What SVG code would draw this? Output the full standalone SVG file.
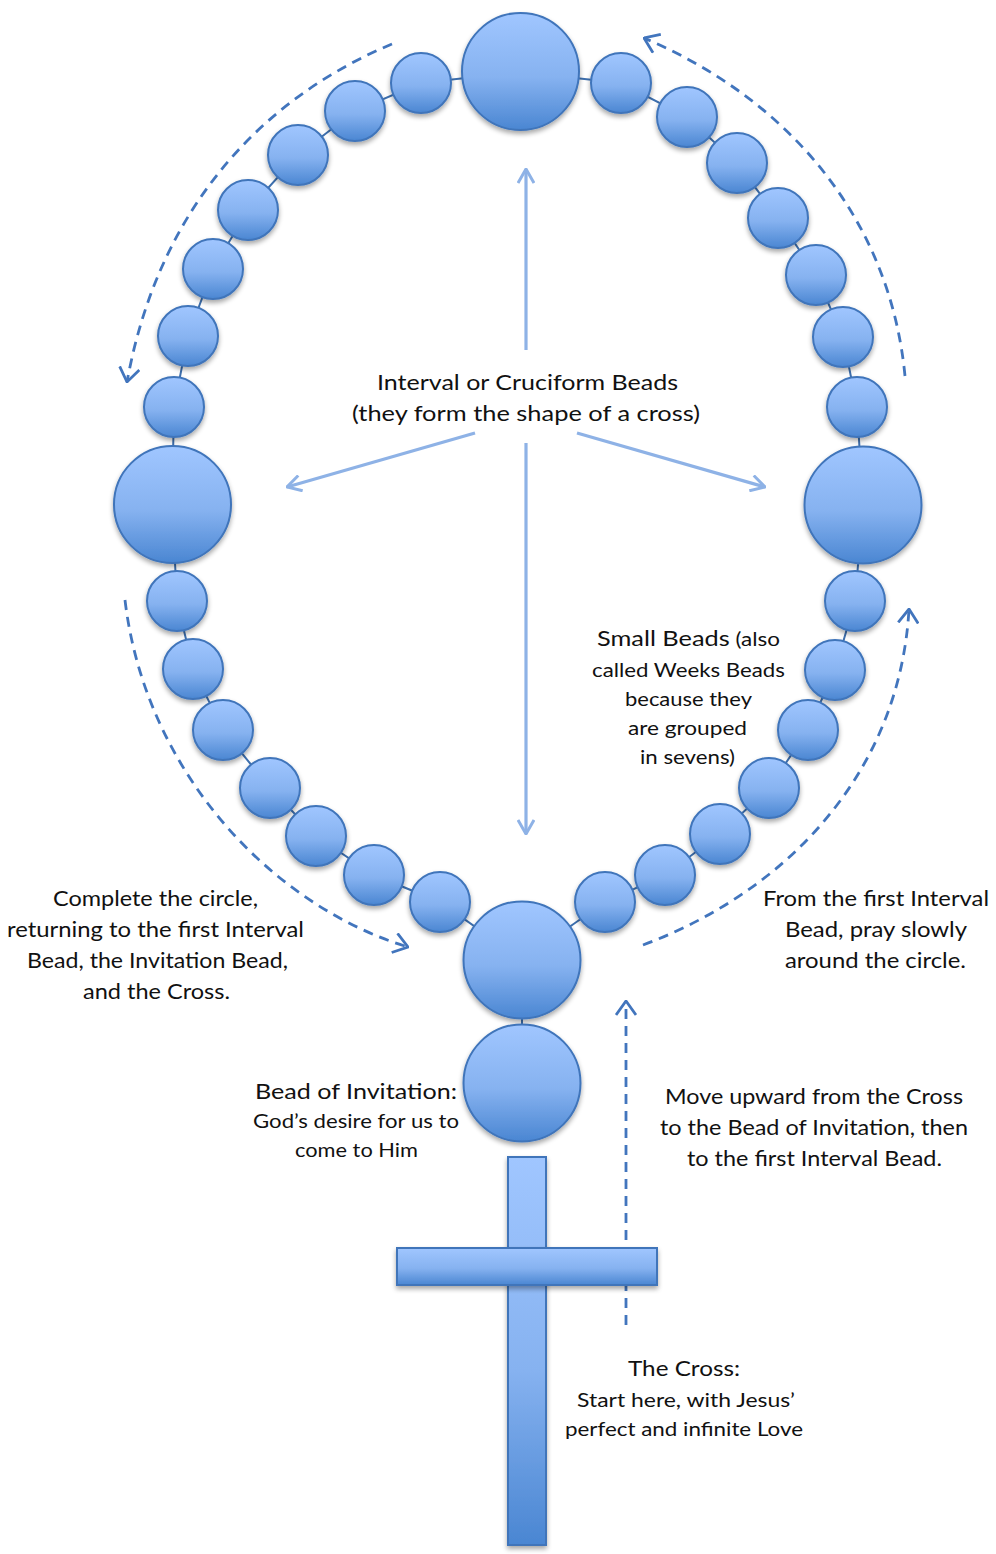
<svg xmlns="http://www.w3.org/2000/svg" width="996" height="1554" viewBox="0 0 996 1554">
<defs>
<linearGradient id="bg" x1="0" y1="0" x2="0" y2="1">
<stop offset="0" stop-color="#a0c6ff"/>
<stop offset="0.55" stop-color="#86b2f0"/>
<stop offset="1" stop-color="#4a86d2"/>
</linearGradient>
<filter id="sh" x="-20%" y="-20%" width="140%" height="150%">
<feGaussianBlur in="SourceAlpha" stdDeviation="2.5"/>
<feOffset dy="3" result="b"/>
<feComponentTransfer><feFuncA type="linear" slope="0.35"/></feComponentTransfer>
<feMerge><feMergeNode/><feMergeNode in="SourceGraphic"/></feMerge>
</filter>
<marker id="ah" viewBox="0 0 16 18" refX="15" refY="9" markerWidth="16" markerHeight="18" markerUnits="userSpaceOnUse" orient="auto">
<path d="M1,1 L15,9 L1,17" fill="none" stroke="#8eb2e6" stroke-width="3"/>
</marker>
<marker id="dh" viewBox="0 0 16 22" refX="15" refY="11" markerWidth="16" markerHeight="22" markerUnits="userSpaceOnUse" orient="auto">
<path d="M1,1 L15,11 L1,21" fill="none" stroke="#4275bd" stroke-width="2.8"/>
</marker>
</defs>
<style>
.bead{fill:url(#bg);stroke:#3f74ba;stroke-width:2;filter:url(#sh)}
.chain{fill:none;stroke:#3d6fae;stroke-width:2}
.sol{fill:none;stroke:#8eb2e6;stroke-width:3.2;marker-end:url(#ah)}
.dsh{fill:none;stroke:#4275bd;stroke-width:2.8;stroke-dasharray:10 7;marker-end:url(#dh)}
text{font-family:Lato,"Liberation Sans",sans-serif;fill:#111}
.m{font-size:22px}
.s{font-size:19.5px}
</style>

<g id="connectors">
<polygon class="chain" points="520,72 621,83 687,117 737,163 778,218 816,275 843,337 857,407 863,505 855,601 835,670 808,730 769,788 720,834 665,875 605,902 522,960 440,902 374,875 316,836 270,788 223,730 193,669 177,601 172,505 174,407 188,336 213,269 248,210 298,155 355,111 421,83"/>
<line class="chain" x1="522" y1="1010" x2="522" y2="1030"/>
<line class="sol" x1="526" y1="350" x2="526" y2="169"/>
<line class="sol" x1="526" y1="443" x2="526" y2="834"/>
<line class="sol" x1="475" y1="433" x2="287" y2="487"/>
<line class="sol" x1="577" y1="433" x2="765" y2="487"/>
<path class="dsh" d="M392,44 C270,95 160,200 127,382"/>
<path class="dsh" d="M905,376 C890,220 790,100 644,38"/>
<path class="dsh" d="M125,600 C145,770 270,905 408,947"/>
<path class="dsh" d="M643,945 C790,890 900,770 909,609"/>
<line class="dsh" x1="626" y1="1325" x2="626" y2="1001"/>
</g>

<g id="beads">
<circle id="interval-top" class="bead" cx="520.5" cy="71.5" r="58.5"/>
<circle id="interval-left" class="bead" cx="172.5" cy="504.5" r="58.5"/>
<circle id="interval-right" class="bead" cx="863" cy="505" r="58.5"/>
<circle id="interval-bottom" class="bead" cx="522" cy="960" r="58.5"/>
<circle id="invitation" class="bead" cx="522" cy="1083" r="58.5"/>
<g id="small-beads">
<circle class="bead" cx="621" cy="83" r="30"/>
<circle class="bead" cx="687" cy="117" r="30"/>
<circle class="bead" cx="737" cy="163" r="30"/>
<circle class="bead" cx="778" cy="218" r="30"/>
<circle class="bead" cx="816" cy="275" r="30"/>
<circle class="bead" cx="843" cy="337" r="30"/>
<circle class="bead" cx="857" cy="407" r="30"/>
<circle class="bead" cx="855" cy="601" r="30"/>
<circle class="bead" cx="835" cy="670" r="30"/>
<circle class="bead" cx="808" cy="730" r="30"/>
<circle class="bead" cx="769" cy="788" r="30"/>
<circle class="bead" cx="720" cy="834" r="30"/>
<circle class="bead" cx="665" cy="875" r="30"/>
<circle class="bead" cx="605" cy="902" r="30"/>
<circle class="bead" cx="440" cy="902" r="30"/>
<circle class="bead" cx="374" cy="875" r="30"/>
<circle class="bead" cx="316" cy="836" r="30"/>
<circle class="bead" cx="270" cy="788" r="30"/>
<circle class="bead" cx="223" cy="730" r="30"/>
<circle class="bead" cx="193" cy="669" r="30"/>
<circle class="bead" cx="177" cy="601" r="30"/>
<circle class="bead" cx="174" cy="407" r="30"/>
<circle class="bead" cx="188" cy="336" r="30"/>
<circle class="bead" cx="213" cy="269" r="30"/>
<circle class="bead" cx="248" cy="210" r="30"/>
<circle class="bead" cx="298" cy="155" r="30"/>
<circle class="bead" cx="355" cy="111" r="30"/>
<circle class="bead" cx="421" cy="83" r="30"/>
</g>
</g>

<g id="cross">
<rect class="bead" x="508" y="1157" width="38" height="388"/>
<rect class="bead" x="397" y="1248" width="260" height="37"/>
</g>

<g id="label-interval">
<text class="m" x="377" y="390" textLength="301" lengthAdjust="spacingAndGlyphs">Interval or Cruciform Beads</text>
<text class="m" x="352" y="421" textLength="348" lengthAdjust="spacingAndGlyphs">(they form the shape of a cross)</text>
</g>
<g id="label-small">
<text x="597" y="646" textLength="183" lengthAdjust="spacingAndGlyphs"><tspan class="m">Small Beads</tspan><tspan class="s"> (also</tspan></text>
<text class="s" x="592" y="677" textLength="193" lengthAdjust="spacingAndGlyphs">called Weeks Beads</text>
<text class="s" x="625" y="706" textLength="127" lengthAdjust="spacingAndGlyphs">because they</text>
<text class="s" x="628" y="735" textLength="119" lengthAdjust="spacingAndGlyphs">are grouped</text>
<text class="s" x="640" y="764" textLength="95" lengthAdjust="spacingAndGlyphs">in sevens)</text>
</g>
<g id="label-complete">
<text class="m" x="53" y="906" textLength="205" lengthAdjust="spacingAndGlyphs">Complete the circle,</text>
<text class="m" x="7" y="937" textLength="297" lengthAdjust="spacingAndGlyphs">returning to the first Interval</text>
<text class="m" x="27" y="968" textLength="261" lengthAdjust="spacingAndGlyphs">Bead, the Invitation Bead,</text>
<text class="m" x="83" y="999" textLength="147" lengthAdjust="spacingAndGlyphs">and the Cross.</text>
</g>
<g id="label-from">
<text class="m" x="763" y="906" textLength="226" lengthAdjust="spacingAndGlyphs">From the first Interval</text>
<text class="m" x="785" y="937" textLength="182" lengthAdjust="spacingAndGlyphs">Bead, pray slowly</text>
<text class="m" x="785" y="968" textLength="181" lengthAdjust="spacingAndGlyphs">around the circle.</text>
</g>
<g id="label-invitation">
<text class="m" x="255" y="1099" textLength="202" lengthAdjust="spacingAndGlyphs">Bead of Invitation:</text>
<text class="s" x="253" y="1128" textLength="206" lengthAdjust="spacingAndGlyphs">God’s desire for us to</text>
<text class="s" x="295" y="1157" textLength="123" lengthAdjust="spacingAndGlyphs">come to Him</text>
</g>
<g id="label-move">
<text class="m" x="665" y="1104" textLength="298" lengthAdjust="spacingAndGlyphs">Move upward from the Cross</text>
<text class="m" x="660" y="1135" textLength="308" lengthAdjust="spacingAndGlyphs">to the Bead of Invitation, then</text>
<text class="m" x="687" y="1166" textLength="255" lengthAdjust="spacingAndGlyphs">to the first Interval Bead.</text>
</g>
<g id="label-cross">
<text class="m" x="628" y="1376" textLength="112" lengthAdjust="spacingAndGlyphs">The Cross:</text>
<text class="s" x="577" y="1407" textLength="218" lengthAdjust="spacingAndGlyphs">Start here, with Jesus’</text>
<text class="s" x="565" y="1436" textLength="238" lengthAdjust="spacingAndGlyphs">perfect and infinite Love</text>
</g>
</svg>
